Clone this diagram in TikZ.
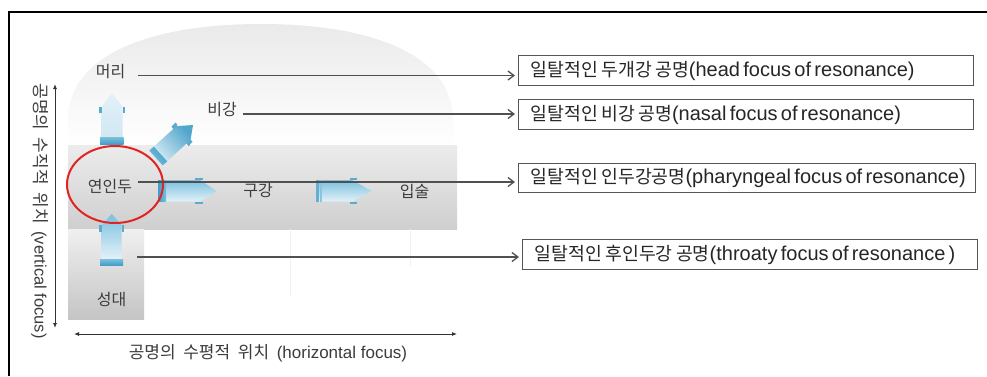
\documentclass[tikz,border=0pt]{standalone}
\usepackage{fontspec}
\setmainfont{Liberation Sans}
\newfontfamily\kr[WordSpace=2.6]{Noto Sans CJK KR}
\newfontfamily\krax[WordSpace=2.0]{Noto Sans CJK KR}
\usetikzlibrary{arrows.meta,calc,shapes.geometric}
\definecolor{txtc}{HTML}{3C3C3C}
\definecolor{boxc}{HTML}{555555}
\definecolor{linec}{HTML}{505050}
\definecolor{domec}{HTML}{EAEAEA}
\definecolor{bandtop}{HTML}{ECECEC}
\definecolor{bandbot}{HTML}{CFCFCF}
\definecolor{bldark}{HTML}{3E9CC6}
\definecolor{blmid}{HTML}{7CC0DE}
\definecolor{bllight}{HTML}{E2F1F8}
\definecolor{blpale}{HTML}{CFE7F3}
\definecolor{redc}{HTML}{E02424}
\newcommand\boxkr[1]{{\kr\fontsize{18.3}{20}\selectfont #1}}
\newcommand\boxlat[1]{{\fontsize{20}{22}\selectfont #1}}
\newcommand\labkr[1]{{\kr\fontsize{16}{18}\selectfont #1}}
\newcommand\axkr[1]{{\krax\fontsize{17}{19}\selectfont #1}}
\newcommand\axlat[1]{{\fontsize{17}{19}\selectfont #1}}
\newcommand\vaxlat[1]{{\fontsize{16.5}{18}\selectfont #1}}
\begin{document}
\begin{tikzpicture}[x=1pt,y=-1pt,
  box/.style={draw=boxc, line width=1.4pt, anchor=north west, minimum height=30pt,
    text width=431pt, inner xsep=12pt, inner ysep=0pt, align=left, text=black!85},
  lab/.style={text=txtc, inner sep=0pt},
  conn/.style={draw=linec, line width=1.3pt, shorten >=3pt,
    -{Straight Barb[length=6pt,width=9pt]}},
  axisline/.style={draw=black!80, line width=0.9pt,
    {Latex[length=5pt,width=4pt]}-{Latex[length=5pt,width=4pt]}},
  tab/.style={fill=bldark!85},
  ring/.style={ellipse, draw=redc, line width=2pt, minimum width=96pt, minimum height=77pt, inner sep=0pt}
]
\useasboundingbox (0,0) rectangle (987,376);
\fill[white] (0,0) rectangle (987,376);

% frame (cropped)
\draw[black, line width=2.6pt] (9,376) -- (9,12) -- (987,12);

% dome
\shade[top color=domec, bottom color=white]
  (68,145) -- (68,120) .. controls (68,55) and (150,24) .. (261,24)
  .. controls (372,24) and (453,55) .. (453,120) -- (453,145) -- cycle;
% bands
\shade[top color=bandtop, bottom color=bandbot] (68,145) rectangle (457,229);
\shade[top color=bandtop!80!white, bottom color=bandbot!95!black] (68,229) rectangle (144,319);
% faint lines
\draw[black!5, line width=0.8pt] (290,229) -- (290,296);
\draw[black!5, line width=0.8pt] (410,229) -- (410,266);

% blue arrow: up (top)
\shade[top color=bllight, bottom color=blpale] (101.7,143) -- (101.7,106.7) -- (111.7,93.3) -- (122.7,106.7) -- (122.7,143) -- cycle;
\fill[tab] (99,107) rectangle (101.7,113);
\fill[tab] (122.7,107) rectangle (125.2,113);
\shade[top color=blmid, bottom color=bldark] (100,137) rectangle (123.5,144.5);

% blue arrow: diagonal
\shade[left color=bllight, right color=bldark!90, shading angle=132]
  (149.3,150.6) -- (173.5,128.8) -- (171.5,126.5) -- (193,125) -- (189.5,146) -- (186.5,143.5) -- (162.7,165.4) -- cycle;
\fill[tab] (171.5,126.5) -- (175.5,122.5) -- (177.5,124.8) -- (173.5,128.8) -- cycle;
\fill[tab] (186.5,143.5) -- (190.5,139.5) -- (192.5,141.8) -- (188.5,145.8) -- cycle;
\shade[left color=blmid, right color=bldark, shading angle=132]
  (149.3,150.6) -- (153.8,146.6) -- (167.2,161.4) -- (162.7,165.4) -- cycle;

% blue arrow: right 1
\shade[top color=blmid, bottom color=bllight] (158,180) -- (200,180) -- (216.7,191) -- (200,201.7) -- (158,201.7) -- cycle;
\fill[tab] (195,177.5) rectangle (203,180);
\fill[tab] (195,201.7) rectangle (203,204.2);
\shade[left color=bldark, right color=blmid] (158,180) rectangle (166,201.7);

% blue arrow: right 2
\shade[top color=blmid, bottom color=bllight] (316,180) -- (352,180) -- (371.7,191) -- (352,201.7) -- (316,201.7) -- cycle;
\fill[tab] (350,177.5) rectangle (357,180);
\fill[tab] (350,201.7) rectangle (357,204.2);
\fill[bldark!80] (316,180) rectangle (318.5,201.7);
\fill[bldark!60] (320,180) rectangle (321.5,201.7);

% blue arrow: up (bottom)
\shade[top color=blmid, bottom color=bllight] (101.7,259) -- (101.7,225) -- (111.7,214) -- (121.7,225) -- (121.7,259) -- cycle;
\fill[tab] (99.2,225) rectangle (101.7,232);
\fill[tab] (121.7,225) rectangle (124.2,232);
\shade[top color=blmid, bottom color=bldark] (100,259) rectangle (123,265.5);

% labels
\node[lab] (mori) at (110.5,71.5) {\labkr{머리}};
\node[lab] (bigang) at (222,110) {\labkr{비강}};
\node[lab] (yeonindu) at (110,186) {\labkr{연인두}};
\node[lab] (gugang) at (258,190.5) {\labkr{구강}};
\node[lab] (ipsul) at (414.5,191) {\labkr{입술}};
\node[lab] (seongdae) at (111.5,299.5) {\labkr{성대}};

% red ring
\node[ring] (ring) at (115,184.5) {};

% boxes
\node[box] (b1) at (518,55) {\mbox{\boxkr{일탈적인 두개강 공명}\boxlat{(head focus of resonance)}}};
\node[box] (b2) at (518,99) {\mbox{\boxkr{일탈적인 비강 공명}\boxlat{(nasal focus of resonance)}}};
\node[box, minimum height=29pt, text width=433pt] (b3) at (518,163) {\mbox{\boxkr{일탈적인 인두강공명}\boxlat{(pharyngeal focus of resonance)}}};
\node[box] (b4) at (522,239) {\mbox{\boxkr{일탈적인 후인두강 공명}\boxlat{(throaty focus of resonance )}}};

% connectors
\coordinate (s1) at (138,75.5);
\coordinate (s2) at (243,114);
\coordinate (s3) at (138,182);
\coordinate (s4) at (137,257);
\draw[conn] (s1) -- (s1 -| b1.west);
\draw[conn] (s2) -- (s2 -| b2.west);
\draw[conn] (s3) -- (s3 -| b3.west);
\draw[conn] (s4) -- (s4 -| b4.west);

% axes
\coordinate (vt) at (55,84);
\coordinate (vb) at (55,328);
\coordinate (hl) at (74,334);
\coordinate (hr) at (457,334);
\draw[axisline] (vt) -- (vb);
\draw[axisline] (hl) -- (hr);
\node[lab, rotate=-90] (vlab) at (40,211) {\axkr{공명의 수직적 위치 }\vaxlat{(vertical focus)}};
\node[lab] (hlab) at (268,353) {\axkr{공명의 수평적 위치 }\axlat{(horizontal focus)}};
\end{tikzpicture}
\end{document}
